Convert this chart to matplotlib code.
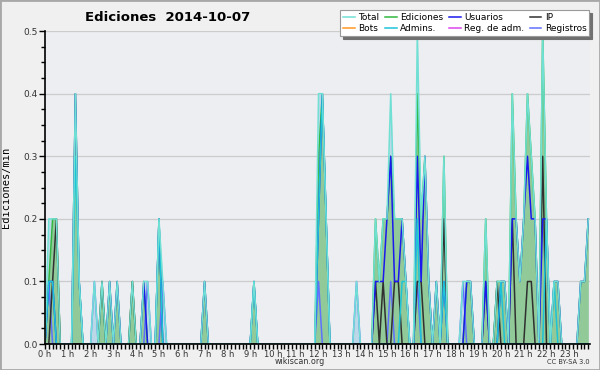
import numpy as np
import matplotlib
matplotlib.use('Agg')
import matplotlib.pyplot as plt

# Wikiscan style activity chart, one point every 10 minutes (144 bins)
# values are edits per 10 min, shown as edits/min (divided by 10)

total = [0,2,2,2,0,0,0,0,4,1,0,0,
         0,1,0,1,0,1,0,1,0,0,0,1,
         0,0,1,1,0,0,2,1,0,0,0,0,
         0,0,0,0,0,0,1,0,0,0,0,0,
         0,0,0,0,0,0,0,1,0,0,0,0,
         0,0,0,0,0,0,0,0,0,0,0,0,
         4,4,2,0,0,0,0,0,0,0,1,0,
         0,0,0,2,1,2,2,4,2,2,2,1,
         0,0,5,2,3,1,0,1,0,3,0,0,
         0,0,1,1,1,0,0,0,2,0,0,1,
         1,1,0,4,2,1,2,4,3,2,0,5,
         2,0,1,1,0,0,0,0,0,1,1,2]

ediciones = [0,1,2,2,0,0,0,0,4,1,0,0,
             0,0,0,1,0,1,0,1,0,0,0,1,
             0,0,1,0,0,0,2,0,0,0,0,0,
             0,0,0,0,0,0,1,0,0,0,0,0,
             0,0,0,0,0,0,0,1,0,0,0,0,
             0,0,0,0,0,0,0,0,0,0,0,0,
             3,4,2,0,0,0,0,0,0,0,0,0,
             0,0,0,2,1,2,2,3,2,2,2,1,
             0,0,4,2,3,1,0,1,0,3,0,0,
             0,0,0,1,1,0,0,0,2,0,0,1,
             1,1,0,4,2,1,2,4,3,2,0,5,
             2,0,1,1,0,0,0,0,0,1,1,2]

usuarios = [0,1,1,0,0,0,0,0,4,1,0,0,
            0,0,0,0,0,1,0,1,0,0,0,0,
            0,0,1,0,0,0,2,0,0,0,0,0,
            0,0,0,0,0,0,1,0,0,0,0,0,
            0,0,0,0,0,0,0,1,0,0,0,0,
            0,0,0,0,0,0,0,0,0,0,0,0,
            2,4,2,0,0,0,0,0,0,0,0,0,
            0,0,0,1,1,1,2,3,1,1,2,1,
            0,0,3,1,3,1,0,1,0,1,0,0,
            0,0,0,1,1,0,0,0,1,0,0,0,
            1,1,0,2,2,1,2,3,2,2,0,2,
            2,0,1,1,0,0,0,0,0,1,1,2]

ip = [0,0,1,2,0,0,0,0,0,0,0,0,
      0,0,0,1,0,0,0,0,0,0,0,1,
      0,0,0,0,0,0,0,0,0,0,0,0,
      0,0,0,0,0,0,0,0,0,0,0,0,
      0,0,0,0,0,0,0,0,0,0,0,0,
      0,0,0,0,0,0,0,0,0,0,0,0,
      0,0,0,0,0,0,0,0,0,0,0,0,
      0,0,0,1,0,1,0,0,1,1,0,0,
      0,0,1,1,0,0,0,0,0,2,0,0,
      0,0,0,0,0,0,0,0,1,0,0,1,
      0,0,0,2,0,0,0,1,1,0,0,3,
      0,0,0,0,0,0,0,0,0,0,0,0]

admins = [0,1,1,0,0,0,0,0,3,1,0,0,
          0,0,0,0,0,0,0,0,0,0,0,0,
          0,0,0,0,0,0,2,0,0,0,0,0,
          0,0,0,0,0,0,0,0,0,0,0,0,
          0,0,0,0,0,0,0,1,0,0,0,0,
          0,0,0,0,0,0,0,0,0,0,0,0,
          2,4,2,0,0,0,0,0,0,0,0,0,
          0,0,0,0,0,0,0,0,0,0,1,1,
          0,0,2,0,0,0,0,0,0,1,0,0,
          0,0,0,0,0,0,0,0,0,0,0,0,
          1,0,0,0,0,0,0,0,0,0,0,0,
          2,0,1,0,0,0,0,0,0,0,0,0]

registros = [0,1,0,0,0,0,0,0,0,0,0,0,
             0,1,0,0,0,0,0,0,0,0,0,0,
             0,0,0,1,0,0,0,1,0,0,0,0,
             0,0,0,0,0,0,0,0,0,0,0,0,
             0,0,0,0,0,0,0,0,0,0,0,0,
             0,0,0,0,0,0,0,0,0,0,0,0,
             1,0,0,0,0,0,0,0,0,0,1,0,
             0,0,0,0,0,0,0,1,0,0,0,0,
             0,0,1,0,0,0,0,0,0,0,0,0,
             0,0,1,0,0,0,0,0,0,0,0,0,
             0,0,0,0,0,0,0,0,0,0,0,0,
             0,0,0,0,0,0,0,0,0,0,0,0]

bots = [0] * 144
reg_adm = [0] * 144

hours = np.arange(144) / 6.0
hour_labels = ['%d h' % h for h in range(24)]

def per_min(v):
    return np.array(v) / 10.0

fig = plt.figure(figsize=(6, 3.7), dpi=100, facecolor='#f0f0f0')
fig.patches.append(plt.Rectangle((0, 0), 1, 1, transform=fig.transFigure,
                                 fill=False, edgecolor='#a8a8a8', linewidth=2))
ax = fig.add_axes([0.075, 0.070, 0.908, 0.846], facecolor='#eceef1')

for y in [0.1, 0.2, 0.3, 0.4, 0.5]:
    ax.axhline(y, color='#cccccc', linewidth=0.9, zorder=0)

ax.fill_between(hours, per_min(total), color='#bcd8e8', linewidth=0, zorder=1)
ax.fill_between(hours, per_min(ediciones), color='#92c998', linewidth=0, zorder=1)

lw = 1.1
ax.plot(hours, per_min(bots), color='#ff9922', lw=lw, label='Bots', zorder=2)
ax.plot(hours, per_min(reg_adm), color='#dd44ee', lw=lw, label='Reg. de adm.', zorder=2)
ax.plot(hours, per_min(ediciones), color='#33b840', lw=lw, label='Ediciones', zorder=2)
ax.plot(hours, per_min(registros), color='#6070ff', lw=lw, label='Registros', zorder=2)
ax.plot(hours, per_min(ip), color='#303030', lw=lw, label='IP', zorder=2)
ax.plot(hours, per_min(usuarios), color='#1a1aee', lw=lw, label='Usuarios', zorder=2)
ax.plot(hours, per_min(admins), color='#1cc4d8', lw=lw, label='Admins.', zorder=2)
ax.plot(hours, per_min(total), color='#70e0d4', lw=lw, label='Total', zorder=2)

ax.set_xlim(0, 23.9)
ax.set_ylim(0, 0.5)

for s in ['top', 'right']:
    ax.spines[s].set_visible(False)
for s in ['left', 'bottom']:
    ax.spines[s].set_linewidth(1.2)
    ax.spines[s].set_zorder(5)

ax.set_xticks(range(24))
ax.set_xticklabels(hour_labels)
ax.set_xticks(hours, minor=True)
ax.set_yticks([0, 0.1, 0.2, 0.3, 0.4, 0.5])
ax.set_yticklabels(['0.0', '0.1', '0.2', '0.3', '0.4', '0.5'])
ax.set_yticks(np.arange(0, 0.5001, 0.025), minor=True)
ax.tick_params(axis='x', which='both', length=3.5, width=1, pad=0.5,
               labelsize=6, colors='black')
ax.tick_params(axis='y', which='major', length=4, width=1, pad=1, labelsize=6.5)
ax.tick_params(axis='y', which='minor', length=3, width=1)
for t in ax.get_yticklabels() + ax.get_xticklabels():
    t.set_color('#333333')

ax.set_ylabel('Ediciones/min', fontsize=7.5, family='DejaVu Sans Mono')
ax.yaxis.set_label_coords(-0.062, 0.5)

fig.text(0.28, 0.953, 'Ediciones  2014-10-07', ha='center', va='center',
         fontsize=9.5, fontweight='bold')
fig.text(0.5, 0.022, 'wikiscan.org', ha='center', va='center', fontsize=5.8,
         color='#333333')
fig.text(0.982, 0.022, 'CC BY-SA 3.0', ha='right', va='center', fontsize=4.8,
         color='#333333')

order = ['Total', 'Bots', 'Ediciones', 'Admins.', 'Usuarios', 'Reg. de adm.',
         'IP', 'Registros']
hs, ls = ax.get_legend_handles_labels()
lookup = dict(zip(ls, hs))
leg = fig.legend([lookup[k] for k in order], order, ncol=4, loc='upper right',
                 bbox_to_anchor=(0.99, 0.985), fontsize=6.5, frameon=True,
                 fancybox=False, shadow={'color': '#707070', 'alpha': 1},
                 handlelength=1.3, handletextpad=0.4, columnspacing=0.6,
                 labelspacing=0.3, borderpad=0.3)
leg.get_frame().set_edgecolor('#999999')
leg.get_frame().set_linewidth(0.8)

fig.savefig('out.png', dpi=100, facecolor=fig.get_facecolor())
